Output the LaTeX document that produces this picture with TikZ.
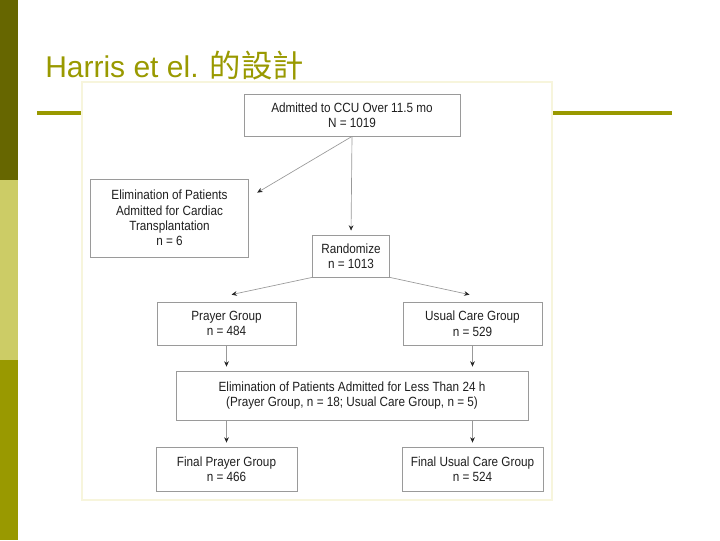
\documentclass[tikz,border=0pt]{standalone}
\usepackage{fontspec}
\setmainfont{Liberation Sans}
\newfontfamily\cjkfont{Noto Sans CJK TC}
\newfontfamily\chartfont{Liberation Sans}[FakeStretch=0.88]
\usetikzlibrary{arrows.meta}

\definecolor{olivedark}{HTML}{666600}
\definecolor{olivelight}{HTML}{CCCC66}
\definecolor{olivemid}{HTML}{999900}
\definecolor{boxline}{HTML}{9A9A9A}
\definecolor{chartedge}{HTML}{F7F5DC}

\begin{document}
\begin{tikzpicture}[
  x=0.75pt, y=-0.75pt,
  flowbox/.style={draw=boxline, fill=white, line width=0.6pt, align=center,
                  font=\chartfont\fontsize{10}{11.6}\selectfont, text=black!88,
                  inner sep=1pt},
  arr/.style={-{Stealth[length=4pt, width=3.5pt, color=black!85]}, draw=black!40,
              line width=0.5pt, shorten >=3pt},
  rule/.style={draw=olivemid, line width=2.4pt},
]
\useasboundingbox (0,0) rectangle (720,540);

% Side bar
\fill[olivedark] (0,0) rectangle (18,180);
\fill[olivelight] (0,180) rectangle (18,360);
\fill[olivemid] (0,360) rectangle (18,540);

% Title and rule
\node[anchor=base west, inner sep=0, text=olivemid,
      font=\fontsize{22.5}{26}\selectfont] (title) at (45,77)
  {Harris et el. {\cjkfont\fontsize{23.5}{26}\selectfont 的設計}};
\draw[rule] (37,113) -- (672,113);

% Chart panel
\filldraw[fill=white, draw=chartedge, line width=0.8pt] (82,82) rectangle (552,500);

% Boxes
\node[flowbox, minimum width=162pt, minimum height=31.5pt] (ccu) at (352,115)
  {Admitted to CCU Over 11.5 mo\\N = 1019};
\node[flowbox, minimum width=119pt, minimum height=58.5pt] (transp) at (169.5,218)
  {Elimination of Patients\\Admitted for Cardiac\\Transplantation\\n = 6};
\node[flowbox, minimum width=57.75pt, minimum height=31.5pt] (rand) at (351,256)
  {Randomize\\n = 1013};
\node[flowbox, minimum width=104.25pt, minimum height=32.25pt] (prayer) at (226.5,323.5)
  {Prayer Group\\n = 484};
\node[flowbox, minimum width=104.25pt, minimum height=32.25pt] (usual) at (472.5,323.5)
  {Usual Care Group\\n = 529};
\node[flowbox, minimum width=264pt, minimum height=36.75pt] (short) at (352,395.5)
  {Elimination of Patients Admitted for Less Than 24 h\\(Prayer Group, n = 18; Usual Care Group, n = 5)};
\node[flowbox, minimum width=105.75pt, minimum height=33pt] (finalp) at (226.5,469)
  {Final Prayer Group\\n = 466};
\node[flowbox, minimum width=105.75pt, minimum height=33pt] (finalu) at (472.5,469)
  {Final Usual Care Group\\n = 524};

% Connectors
\coordinate (tipT) at ([shift={(8,14)}]transp.north east);
\coordinate (tipP) at ([shift={(5,-7)}]prayer.north);
\coordinate (tipU) at ([shift={(-3,-7)}]usual.north);

\draw[arr] (ccu.south) -- (rand.north);
\draw[arr, shorten >=0pt] (ccu.south) -- (tipT);
\draw[arr, shorten >=0pt] (rand.south west) -- (tipP);
\draw[arr, shorten >=0pt] (rand.south east) -- (tipU);
\draw[arr] (prayer.south) -- (prayer.south |- short.north);
\draw[arr] (usual.south) -- (usual.south |- short.north);
\draw[arr] (short.south -| finalp.north) -- (finalp.north);
\draw[arr] (short.south -| finalu.north) -- (finalu.north);

\end{tikzpicture}
\end{document}
